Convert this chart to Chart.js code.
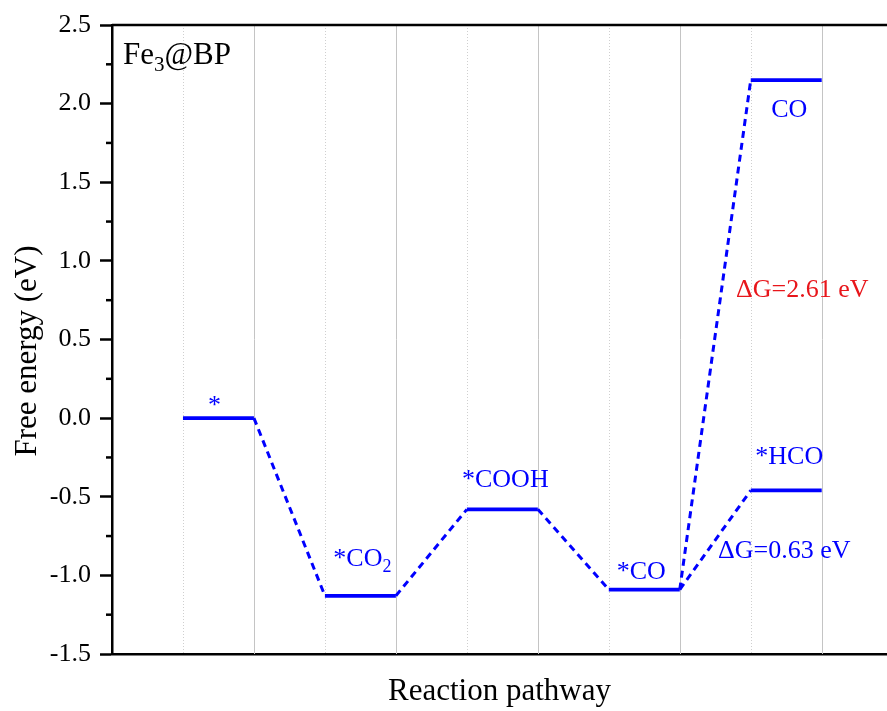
<!DOCTYPE html>
<html>
<head>
<meta charset="utf-8">
<script src="https://cdn.jsdelivr.net/npm/chart.js@4/dist/chart.umd.min.js"></script>
<style>
  html, body { margin: 0; padding: 0; background: #fff; }
  canvas { display: block; }
</style>
</head>
<body>
<canvas id="c" width="887" height="711"></canvas>
<script>
// Intermediates along the CO2 reduction pathway on Fe3@BP
const species = ['*', '*CO2', '*COOH', '*CO', 'CO', '*HCO'];
const freeEnergy = [0.00, -1.13, -0.58, -1.09, 2.15, -0.46];
const stepIndex = [0, 1, 2, 3, 4, 4];
// pairs of species joined by a dashed connector
const pathLinks = [[0, 1], [1, 2], [2, 3], [3, 4], [3, 5]];
// reaction free energy annotations for the two final branches
const barrierText = ['ΔG=0.63 eV', 'ΔG=2.61 eV'];
const yTickValues = [-1.5, -1.0, -0.5, 0.0, 0.5, 1.0, 1.5, 2.0, 2.5];

const SERIF = '"Liberation Serif", "Times New Roman", serif';
const BLUE = '#0000ff';
const RED = '#e8161b';

// placement of each species label relative to its level (px)
const labelPlace = {
  '*':     { dx: -4, dy: -5 },
  '*CO2':  { dx: 2,  dy: -30 },
  '*COOH': { dx: 3,  dy: -22 },
  '*CO':   { dx: -3, dy: -11 },
  'CO':    { dx: 3,  dy: 37 },
  '*HCO':  { dx: 3,  dy: -26 }
};
// anchor of the ΔG annotations (left edge, baseline) in px
const barrierPlace = [
  { x: 718, y: 558, color: BLUE },
  { x: 736, y: 297, color: RED }
];

const levelStart = s => 1 + 2 * s;
const levelEnd = s => 2 + 2 * s;

const datasets = [];
species.forEach((name, i) => {
  datasets.push({
    label: name,
    data: [
      { x: levelStart(stepIndex[i]), y: freeEnergy[i] },
      { x: levelEnd(stepIndex[i]), y: freeEnergy[i] }
    ],
    showLine: true,
    borderColor: BLUE,
    borderWidth: 3.8,
    pointRadius: 0,
    borderCapStyle: 'butt'
  });
});
pathLinks.forEach(([a, b]) => {
  datasets.push({
    label: species[a] + '→' + species[b],
    data: [
      { x: levelEnd(stepIndex[a]), y: freeEnergy[a] },
      { x: levelStart(stepIndex[b]), y: freeEnergy[b] }
    ],
    showLine: true,
    borderColor: BLUE,
    borderWidth: 3,
    borderDash: [7, 5],
    pointRadius: 0,
    borderCapStyle: 'butt'
  });
});

// text with chemical subscripts (digits following a letter)
function chemParts(text) {
  const parts = [];
  let prev = '';
  for (const ch of text) {
    const sub = /[0-9]/.test(ch) && /[A-Za-z]/.test(prev);
    const last = parts[parts.length - 1];
    if (last && last.sub === sub) last.t += ch; else parts.push({ t: ch, sub });
    prev = sub ? prev : ch;
  }
  return parts;
}
function drawChem(ctx, text, x, y, size, align, color) {
  const parts = chemParts(text);
  const subSize = Math.round(size * 0.68);
  let w = 0;
  parts.forEach(p => {
    ctx.font = (p.sub ? subSize : size) + 'px ' + SERIF;
    p.w = ctx.measureText(p.t).width;
    w += p.w;
  });
  let cx = align === 'center' ? x - w / 2 : x;
  ctx.fillStyle = color;
  ctx.textAlign = 'left';
  ctx.textBaseline = 'alphabetic';
  parts.forEach(p => {
    ctx.font = (p.sub ? subSize : size) + 'px ' + SERIF;
    ctx.fillText(p.t, cx, p.sub ? y + size * 0.22 : y);
    cx += p.w;
  });
}

const decorations = {
  id: 'decorations',
  beforeDatasetsDraw(chart) {
    const { ctx, chartArea: ca, scales: { x } } = chart;
    const steps = [...new Set(stepIndex)];
    ctx.save();
    steps.forEach(s => {
      // dotted guide at the start of each level, solid at its end
      let px = Math.round(x.getPixelForValue(levelStart(s))) + 0.5;
      ctx.strokeStyle = '#cfcfcf';
      ctx.lineWidth = 1;
      ctx.setLineDash([1, 2]);
      ctx.beginPath(); ctx.moveTo(px, ca.top); ctx.lineTo(px, ca.bottom); ctx.stroke();
      px = Math.round(x.getPixelForValue(levelEnd(s))) + 0.5;
      ctx.strokeStyle = '#c4c4c4';
      ctx.setLineDash([]);
      ctx.beginPath(); ctx.moveTo(px, ca.top); ctx.lineTo(px, ca.bottom); ctx.stroke();
    });
    ctx.restore();
  },
  afterDraw(chart) {
    const { ctx, chartArea: ca, scales: { x, y } } = chart;
    ctx.save();
    // frame top edge
    ctx.strokeStyle = '#000';
    ctx.lineWidth = 2.5;
    ctx.beginPath(); ctx.moveTo(ca.left, ca.top); ctx.lineTo(ca.right, ca.top); ctx.stroke();
    // minor ticks halfway between the labelled ticks
    for (let i = 0; i < yTickValues.length - 1; i++) {
      const py = y.getPixelForValue((yTickValues[i] + yTickValues[i + 1]) / 2);
      ctx.beginPath(); ctx.moveTo(ca.left - 6, py); ctx.lineTo(ca.left, py); ctx.stroke();
    }
    // species labels
    species.forEach((name, i) => {
      const cx = (x.getPixelForValue(levelStart(stepIndex[i])) + x.getPixelForValue(levelEnd(stepIndex[i]))) / 2;
      const py = y.getPixelForValue(freeEnergy[i]);
      const pl = labelPlace[name];
      drawChem(ctx, name, cx + pl.dx, py + pl.dy, 26, 'center', BLUE);
    });
    // ΔG annotations
    barrierText.forEach((t, i) => {
      ctx.font = '26px ' + SERIF;
      ctx.fillStyle = barrierPlace[i].color;
      ctx.textAlign = 'left';
      ctx.textBaseline = 'alphabetic';
      ctx.fillText(t, barrierPlace[i].x, barrierPlace[i].y);
    });
    // panel tag
    drawChem(ctx, 'Fe3@BP', ca.left + 11, ca.top + 39, 31, 'left', '#000');
    // axis titles
    ctx.fillStyle = '#000';
    ctx.font = '31px ' + SERIF;
    ctx.textAlign = 'center';
    ctx.textBaseline = 'alphabetic';
    ctx.fillText('Reaction pathway', (ca.left + ca.right) / 2, 700);
    ctx.translate(36, 351);
    ctx.rotate(-Math.PI / 2);
    ctx.fillText('Free energy (eV)', 0, 0);
    ctx.restore();
  }
};

new Chart(document.getElementById('c'), {
  type: 'scatter',
  data: { datasets },
  options: {
    responsive: false,
    animation: false,
    layout: { padding: { top: 25, right: 0, bottom: 0, left: 0 } },
    plugins: { legend: { display: false }, tooltip: { enabled: false } },
    scales: {
      x: {
        type: 'linear',
        min: 0,
        max: 10.92,
        grid: { display: false },
        border: { display: true, color: '#000', width: 2.5 },
        ticks: { display: false },
        afterFit(s) { s.height = 57; }
      },
      y: {
        type: 'linear',
        min: yTickValues[0],
        max: yTickValues[yTickValues.length - 1],
        afterBuildTicks(s) { s.ticks = yTickValues.map(v => ({ value: v })); },
        grid: {
          drawOnChartArea: false,
          drawTicks: true,
          tickLength: 12,
          tickWidth: 2.5,
          tickColor: '#000'
        },
        border: { display: true, color: '#000', width: 2.5 },
        ticks: {
          font: { family: SERIF, size: 26 },
          color: '#000',
          padding: 9,
          callback: v => Number(v).toFixed(1)
        },
        afterFit(s) { s.width = 112; }
      }
    }
  },
  plugins: [decorations]
});
</script>
</body>
</html>
